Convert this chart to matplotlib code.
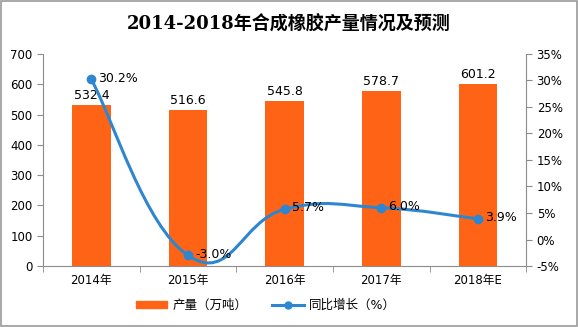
''' synthetic rubber output 2014-2018 '''
import numpy as np
import matplotlib.pyplot as plt
from matplotlib.path import Path
from matplotlib.patches import PathPatch
from matplotlib.lines import Line2D
from matplotlib.patches import Patch

plt.rcParams['font.family'] = ['DejaVu Sans', 'Noto Sans CJK SC']

years = ['2014年', '2015年', '2016年', '2017年', '2018年E']
output = [532.4, 516.6, 545.8, 578.7, 601.2]
growth = [30.2, -3.0, 5.7, 6.0, 3.9]

BAR_COLOR = '#FF6416'
LINE_COLOR = '#2D86CF'
AXIS_COLOR = '#8C8C8C'


def smooth_path(xs, ys, t=0.45):
    '''catmull-rom style bezier path through the points'''
    verts = [(xs[0], ys[0])]
    codes = [Path.MOVETO]
    n = len(xs)
    for i in range(n - 1):
        x0, y0 = (xs[i - 1], ys[i - 1]) if i > 0 else (xs[i], ys[i])
        x1, y1 = xs[i], ys[i]
        x2, y2 = xs[i + 1], ys[i + 1]
        x3, y3 = (xs[i + 2], ys[i + 2]) if i + 2 < n else (x2, y2)
        c1 = (x1 + (x2 - x0) * t * 0.5, y1 + (y2 - y0) * t * 0.5)
        c2 = (x2 - (x3 - x1) * t * 0.5, y2 - (y3 - y1) * t * 0.5)
        verts += [c1, c2, (x2, y2)]
        codes += [Path.CURVE4] * 3
    return Path(verts, codes)


def main():
    '''main function'''
    fig = plt.figure(figsize=(5.78, 3.27), dpi=100)
    ax = fig.add_axes([0.0744, 0.1865, 0.836, 0.6485])
    x = np.arange(len(years))

    ax.bar(x, output, width=0.4, color=BAR_COLOR, zorder=2)
    for xi, v in zip(x, output):
        ax.annotate(f'{v:.1f}', (xi, v), xytext=(0, 2), textcoords='offset points',
                    ha='center', va='bottom', fontsize=9)
    ax.set_ylim(0, 700)
    ax.set_yticks(range(0, 701, 100))
    ax.set_xlim(-0.5, len(years) - 0.5)
    ax.set_xticks(x)
    ax.set_xticklabels(years)
    ax.set_xticks(np.arange(-0.5, len(years), 1.0), minor=True)
    ax.tick_params(axis='x', which='major', length=0, labelsize=8.5, pad=6)
    ax.tick_params(axis='x', which='minor', length=4, color=AXIS_COLOR, direction='out')
    ax.tick_params(axis='y', length=4, color=AXIS_COLOR, labelsize=8.5)
    for s in ['top', 'right']:
        ax.spines[s].set_visible(False)
    for s in ['left', 'bottom']:
        ax.spines[s].set_color(AXIS_COLOR)

    ax2 = ax.twinx()
    ax2.set_ylim(-5, 35)
    ax2.set_yticks(range(-5, 36, 5))
    ax2.set_yticklabels([f'{v}%' for v in range(-5, 36, 5)])
    ax2.tick_params(axis='y', length=4, color=AXIS_COLOR, labelsize=8.5)
    for s in ['top', 'left', 'bottom']:
        ax2.spines[s].set_visible(False)
    ax2.spines['right'].set_color(AXIS_COLOR)

    # smooth line in display space so the curve shape is independent of scales
    pts = ax2.transData.transform(np.column_stack([x, growth]))
    path = smooth_path(pts[:, 0], pts[:, 1])
    ax2.add_patch(PathPatch(path, facecolor='none', edgecolor=LINE_COLOR, lw=2.2,
                            transform=None, zorder=3))
    ax2.plot(x, growth, 'o', color=LINE_COLOR, ms=6, zorder=4)
    for xi, v in zip(x, growth):
        ax2.annotate(f'{v:.1f}%', (xi, v), xytext=(5, 1), textcoords='offset points',
                     ha='left', va='center', fontsize=9)

    fig.text(0.5, 0.925, '2014-2018年合成橡胶产量情况及预测', ha='center', va='center',
             fontsize=13, fontweight='bold', family=['DejaVu Serif', 'Noto Sans CJK SC'])

    handles = [Patch(color=BAR_COLOR),
               Line2D([], [], color=LINE_COLOR, lw=2.2, marker='o', ms=5)]
    fig.legend(handles, ['产量（万吨）', '同比增长（%）'], loc='center',
               bbox_to_anchor=(0.46, 0.065), ncol=2, frameon=False, fontsize=9,
               handlelength=2.5, handleheight=0.5, columnspacing=2.0, handletextpad=0.4)

    # outer border
    fig.add_artist(plt.Rectangle((0.001, 0.003), 0.997, 0.995, transform=fig.transFigure,
                                 fill=False, edgecolor='#9A9A9A', lw=1.2))
    fig.savefig('out.png', dpi=100)


if __name__ == "__main__":
    main()
